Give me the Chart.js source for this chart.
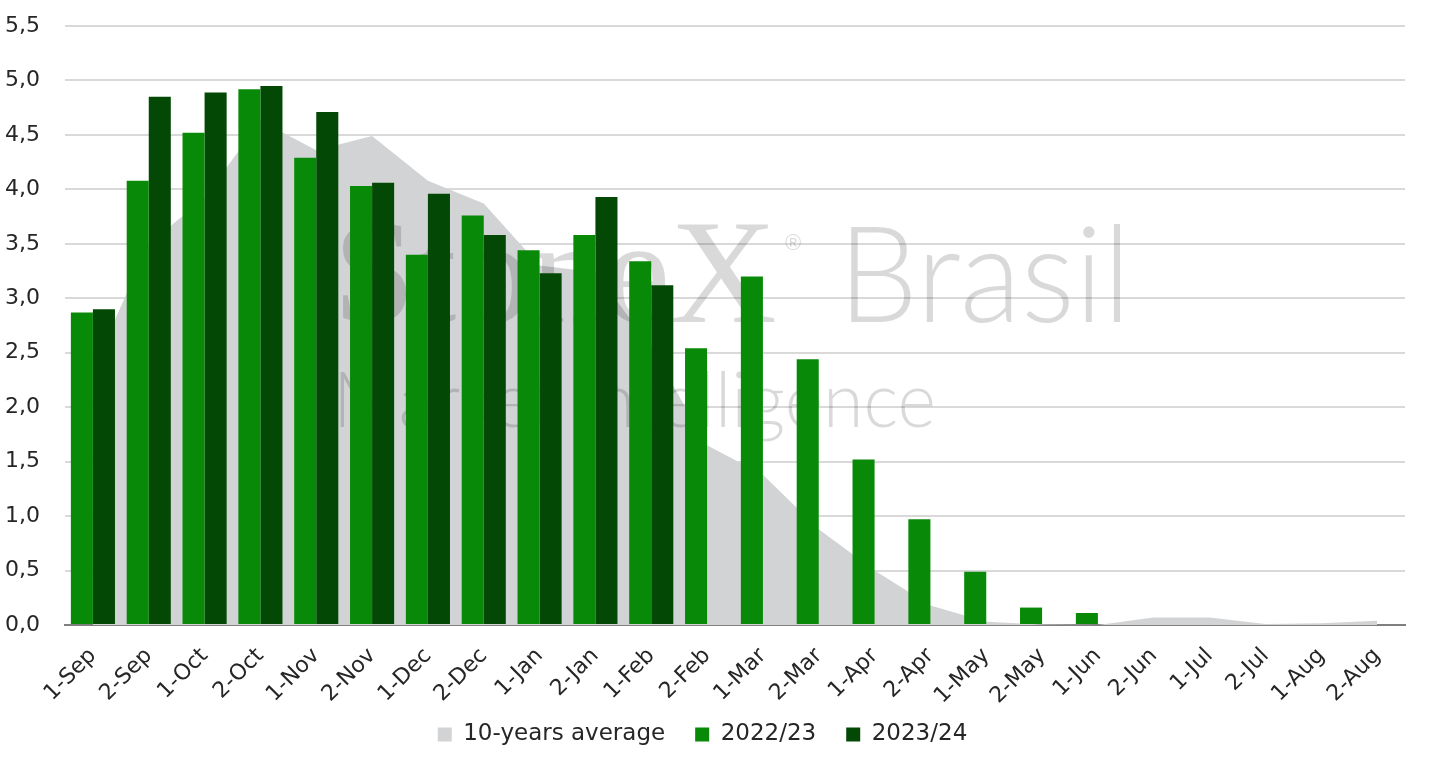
<!DOCTYPE html>
<html>
<head>
<meta charset="utf-8">
<script src="https://cdn.jsdelivr.net/npm/chart.js@4.4.1/dist/chart.umd.min.js"></script>
<style>
  html, body { margin: 0; padding: 0; background: #fff; }
  #wrap { width: 1429px; height: 768px; position: relative; }
</style>
</head>
<body>
<div id="wrap"><canvas id="myChart"></canvas></div>
<script>
// fortnight categories
const categories = ['1-Sep', '2-Sep', '1-Oct', '2-Oct', '1-Nov', '2-Nov', '1-Dec', '2-Dec',
  '1-Jan', '2-Jan', '1-Feb', '2-Feb', '1-Mar', '2-Mar', '1-Apr', '2-Apr',
  '1-May', '2-May', '1-Jun', '2-Jun', '1-Jul', '2-Jul', '1-Aug', '2-Aug'];

// series
const avg10y = [2.35, 3.50, 3.92, 4.63, 4.36, 4.49, 4.08, 3.87, 3.30, 3.24, 2.55, 1.65,
  1.38, 0.88, 0.50, 0.18, 0.03, 0.005, 0, 0.07, 0.07, 0.01, 0.015, 0.04];
const season2223 = [2.87, 4.08, 4.52, 4.92, 4.29, 4.03, 3.40, 3.76, 3.44, 3.58, 3.34, 2.54,
  3.20, 2.44, 1.52, 0.97, 0.49, 0.16, 0.11, null, null, null, null, null];
const season2324 = [2.90, 4.85, 4.89, 4.95, 4.71, 4.06, 3.96, 3.58, 3.23, 3.93, 3.12, null,
  null, null, null, null, null, null, null, null, null, null, null, null];

// y axis ticks
const yTicks = [0, 0.5, 1, 1.5, 2, 2.5, 3, 3.5, 4, 4.5, 5, 5.5];

const FONT = '"DejaVu Sans", "Open Sans", sans-serif';

// watermark drawn right after the grey area, under the bars
const watermark = {
  id: 'watermark',
  afterDatasetDraw(chart, args) {
    if (args.index !== 0) return;
    const c = chart.ctx;
    c.save();
    c.fillStyle = 'rgba(0,0,0,0.15)';
    c.textBaseline = 'alphabetic';
    c.textAlign = 'left';
    c.font = '148px "Liberation Serif", serif';
    c.fillText('StoneX', 333, 322, 455);
    c.font = '22px "Liberation Sans", sans-serif';
    c.fillText('®', 785, 250);
    c.font = '300 135px Lato, "Liberation Sans", sans-serif';
    c.fillText('Brasil', 838, 322, 293);
    c.font = '300 76px Lato, "Liberation Sans", sans-serif';
    c.fillText('Market Intelligence', 333, 427, 603);
    c.restore();
  }
};

// fixed legend box height so the plot bottom and legend row land where wanted
const legendHeight = {
  id: 'legendHeight',
  beforeLayout(chart) {
    const lg = chart.legend;
    if (lg && !lg._fixedFit) {
      const fit = lg.fit;
      lg.fit = function () { fit.call(this); this.height = 75; };
      lg._fixedFit = true;
    }
  }
};

const ctx = document.getElementById('myChart').getContext('2d');
new Chart(ctx, {
  type: 'bar',
  data: {
    labels: categories,
    datasets: [{
      type: 'line',
      label: '10-years average',
      data: avg10y,
      fill: 'origin',
      backgroundColor: '#d2d3d5',
      borderColor: '#d2d3d5',
      borderWidth: 0,
      pointRadius: 0,
      tension: 0,
      order: 3
    }, {
      label: '2022/23',
      data: season2223,
      backgroundColor: '#088a08',
      categoryPercentage: 0.79,
      barPercentage: 1.0,
      order: 1
    }, {
      label: '2023/24',
      data: season2324,
      backgroundColor: '#034804',
      categoryPercentage: 0.79,
      barPercentage: 1.0,
      order: 2
    }]
  },
  options: {
    responsive: true,
    maintainAspectRatio: false,
    animation: false,
    layout: { padding: { top: 26, right: 24, left: 0, bottom: 0 } },
    scales: {
      x: {
        grid: { display: false, drawTicks: false },
        border: { display: true, color: '#7f7f7f', width: 2 },
        afterFit: scale => {
          scale.height = 68;
          scale._computeLabelArea = () => null; // let rotated labels run past the box
        },
        ticks: {
          color: '#262626',
          font: { family: FONT, size: 22 },
          minRotation: 45,
          maxRotation: 45,
          autoSkip: false,
          padding: 18
        }
      },
      y: {
        min: 0,
        max: 5.5,
        afterBuildTicks: scale => { scale.ticks = yTicks.map(v => ({ value: v })); },
        afterFit: scale => {
          scale.width = 65;
          scale.paddingTop = 0;
          scale.paddingBottom = 0;
        },
        grid: { color: '#d9d9d9', lineWidth: 2, drawTicks: false },
        border: { display: false },
        ticks: {
          color: '#262626',
          font: { family: FONT, size: 22 },
          padding: 25,
          callback: v => v.toFixed(1).replace('.', ',')
        }
      }
    },
    plugins: {
      legend: {
        position: 'bottom',
        labels: {
          color: '#262626',
          font: { family: FONT, size: 23 },
          boxWidth: 14,
          boxHeight: 14,
          padding: 30,
          sort: (a, b) => a.datasetIndex - b.datasetIndex
        }
      },
      tooltip: { enabled: false }
    }
  },
  plugins: [watermark, legendHeight]
});
</script>
</body>
</html>
